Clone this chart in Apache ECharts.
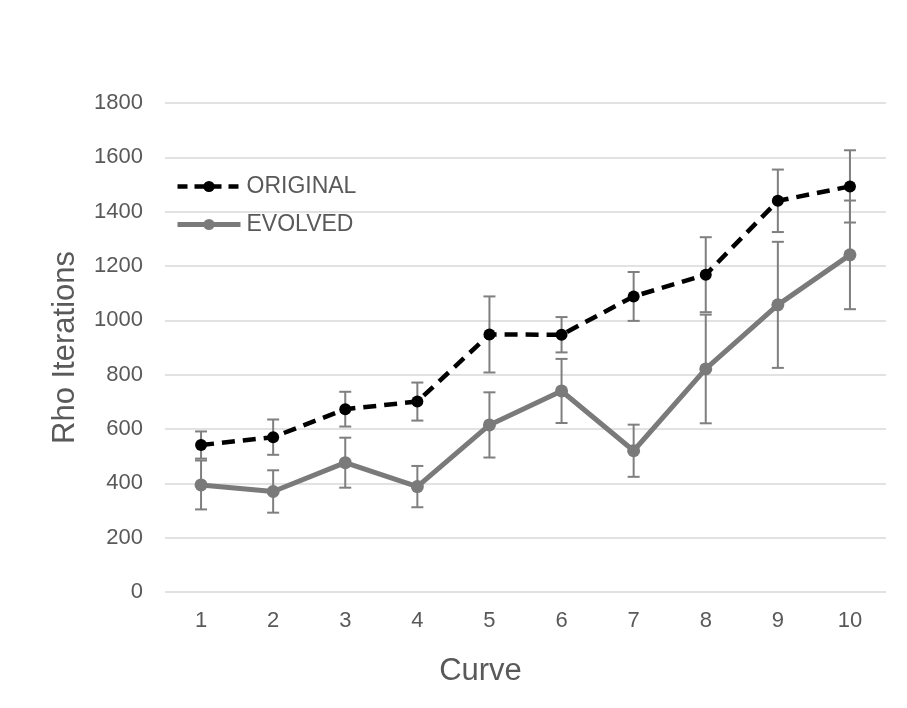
<!DOCTYPE html>
<html>
<head>
<meta charset="utf-8">
<script src="https://cdn.jsdelivr.net/npm/echarts@6/dist/echarts.min.js"></script>
<style>
html,body{margin:0;padding:0;background:#fff;}
#chart{width:907px;height:708px;}
</style>
</head>
<body>
<div id="chart"></div>
<script>
const categories = ['1','2','3','4','5','6','7','8','9','10'];
const originalValues = [541, 570, 673, 701, 948, 947, 1088, 1168, 1440, 1493];
const originalErrors = [50, 65, 64, 70, 140, 65, 90, 138, 115, 133];
const evolvedValues = [394, 370, 476, 388, 615, 740, 520, 821, 1057, 1241];
const evolvedErrors = [90, 78, 92, 76, 120, 118, 96, 200, 232, 200];
const yTicks = {min: 0, max: 1800, interval: 200};

const textColor = '#595959';
const font = 'Liberation Sans, Arial, sans-serif';
const origLine = {color: '#000000', width: 4.5, type: [13, 8], cap: 'butt'};
const evoLine = {color: '#7a7a7a', width: 5};

function errorBarSeries(values, errors, color) {
  const data = values.map((v, i) => [i, v - errors[i], v + errors[i]]);
  return {
    type: 'custom',
    silent: true,
    z: 1,
    data: data,
    encode: {x: 0, y: [1, 2]},
    renderItem: function (params, api) {
      const x = api.value(0);
      const lo = api.coord([x, api.value(1)]);
      const hi = api.coord([x, api.value(2)]);
      const half = 6;
      const style = {stroke: color, lineWidth: 2, fill: null};
      return {
        type: 'group',
        children: [
          {type: 'line', shape: {x1: lo[0], y1: lo[1], x2: hi[0], y2: hi[1]}, style: style},
          {type: 'line', shape: {x1: lo[0] - half, y1: lo[1], x2: lo[0] + half, y2: lo[1]}, style: style},
          {type: 'line', shape: {x1: hi[0] - half, y1: hi[1], x2: hi[0] + half, y2: hi[1]}, style: style}
        ]
      };
    }
  };
}

const chart = echarts.init(document.getElementById('chart'), null, {renderer: 'canvas'});
chart.setOption({
  animation: false,
  backgroundColor: '#ffffff',
  grid: {left: 165, right: 21, top: 103, bottom: 116, containLabel: false},
  legend: {
    orient: 'vertical',
    left: 170,
    top: 170,
    itemWidth: 63,
    itemHeight: 14,
    itemGap: 15,
    textStyle: {color: textColor, fontSize: 23, fontFamily: font, padding: [0,0,0,1]},
    data: [
      {name: 'ORIGINAL', lineStyle: {width: 4.5, type: [10, 7]}, itemStyle: {color: '#000'}},
      {name: 'EVOLVED', lineStyle: {width: 5}}
    ]
  },
  xAxis: {
    type: 'category',
    data: categories,
    boundaryGap: true,
    name: 'Curve',
    nameLocation: 'middle',
    nameGap: 64,
    nameTextStyle: {color: textColor, fontSize: 31, fontFamily: font, padding: [0, 90, 0, 0]},
    axisLine: {show: false},
    axisTick: {show: false},
    axisLabel: {color: textColor, fontSize: 22, fontFamily: font, margin: 18}
  },
  yAxis: {
    type: 'value',
    min: yTicks.min,
    max: yTicks.max,
    interval: yTicks.interval,
    name: 'Rho Iterations',
    nameLocation: 'middle',
    nameGap: 84,
    nameTextStyle: {color: textColor, fontSize: 31, fontFamily: font},
    axisLine: {show: false},
    axisTick: {show: false},
    axisLabel: {color: textColor, fontSize: 22, fontFamily: font, margin: 22, formatter: function (v) { return String(v); }},
    splitLine: {lineStyle: {color: '#d9d9d9', width: 1.5}}
  },
  series: [
    errorBarSeries(originalValues, originalErrors, '#7f7f7f'),
    errorBarSeries(evolvedValues, evolvedErrors, '#7f7f7f'),
    {
      name: 'ORIGINAL',
      type: 'line',
      z: 3,
      data: originalValues,
      symbol: 'circle',
      symbolSize: 12,
      itemStyle: {color: '#000000'},
      lineStyle: origLine
    },
    {
      name: 'EVOLVED',
      type: 'line',
      z: 2,
      data: evolvedValues,
      symbol: 'circle',
      symbolSize: 13,
      itemStyle: {color: '#7a7a7a'},
      lineStyle: evoLine
    }
  ]
});
</script>
</body>
</html>
